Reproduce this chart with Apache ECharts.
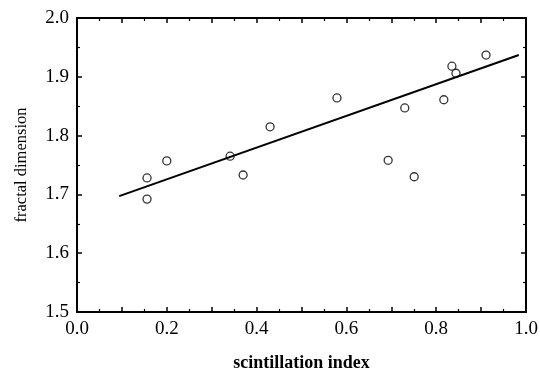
<!DOCTYPE html>
<html>
<head>
<meta charset="utf-8">
<script src="https://cdn.jsdelivr.net/npm/echarts@6/dist/echarts.min.js"></script>
<style>html,body{margin:0;padding:0;background:#fff}#c{width:540px;height:369px}</style>
</head>
<body>
<div id="c"></div>
<script>
const scintIndex = [0.156, 0.156, 0.200, 0.341, 0.370, 0.430, 0.579, 0.693, 0.730, 0.751, 0.817, 0.835, 0.844, 0.911];
const fractalDim = [1.728, 1.692, 1.757, 1.765, 1.733, 1.815, 1.864, 1.758, 1.847, 1.730, 1.861, 1.918, 1.906, 1.937];
const fitX = [0.094, 0.984];
const fitY = [1.697, 1.937];
const xTicks = [0.0, 0.2, 0.4, 0.6, 0.8, 1.0];
const yTicks = [1.5, 1.6, 1.7, 1.8, 1.9, 2.0];

const font = 'Liberation Serif';
const points = scintIndex.map((x, i) => [x, fractalDim[i]]);
const fit = fitX.map((x, i) => [x, fitY[i]]);

function xAx(pos, show) {
  return {
    type: 'value', position: pos, min: 0, max: 1, interval: 0.1,
    axisLine: {show: true, onZero: false, lineStyle: {color: '#000', width: 2}},
    axisTick: {show: true, inside: true, length: 5, lineStyle: {color: '#000', width: 1.5}},
    minorTick: {show: true, splitNumber: 2, length: 3, lineStyle: {color: '#000', width: 1.2}},
    splitLine: {show: false},
    axisLabel: show ? {
      show: true, color: '#000', fontFamily: font, fontSize: 19, margin: 8,
      formatter: v => {
        const r = Math.round(v * 10) / 10;
        return xTicks.some(t => Math.abs(t - r) < 1e-6) ? r.toFixed(1) : '';
      }
    } : {show: false},
    name: show ? 'scintillation index' : '',
    nameLocation: 'middle', nameGap: 42,
    nameTextStyle: {color: '#000', fontFamily: font, fontSize: 18, fontWeight: 'bold'}
  };
}
function yAx(pos, show) {
  return {
    type: 'value', position: pos, min: 1.5, max: 2.0, interval: 0.1,
    axisLine: {show: true, onZero: false, lineStyle: {color: '#000', width: 2}},
    axisTick: {show: true, inside: true, length: 5, lineStyle: {color: '#000', width: 1.5}},
    minorTick: {show: true, splitNumber: 2, length: 3, lineStyle: {color: '#000', width: 1.2}},
    splitLine: {show: false},
    axisLabel: show ? {
      show: true, color: '#000', fontFamily: font, fontSize: 19, margin: 8,
      formatter: v => {
        const r = Math.round(v * 10) / 10;
        return yTicks.some(t => Math.abs(t - r) < 1e-6) ? r.toFixed(1) : '';
      }
    } : {show: false},
    name: show ? 'fractal dimension' : '',
    nameLocation: 'middle', nameGap: 47, nameRotate: 90,
    nameTextStyle: {color: '#000', fontFamily: font, fontSize: 16.5}
  };
}

const chart = echarts.init(document.getElementById('c'), null, {renderer: 'canvas'});
chart.setOption({
  animation: false,
  backgroundColor: '#fff',
  grid: {left: 77, right: 14, top: 18, bottom: 57, containLabel: false, outerBoundsMode: 'none'},
  xAxis: [xAx('bottom', true), xAx('top', false)],
  yAxis: [yAx('left', true), yAx('right', false)],
  series: [
    {
      type: 'line', data: fit, xAxisIndex: 0, yAxisIndex: 0,
      showSymbol: false, lineStyle: {color: '#000', width: 2}
    },
    {
      type: 'scatter', data: points, xAxisIndex: 0, yAxisIndex: 0,
      symbol: 'circle', symbolSize: 8,
      itemStyle: {color: '#fff', borderColor: '#000', borderWidth: 1.3}
    }
  ]
});
</script>
</body>
</html>
